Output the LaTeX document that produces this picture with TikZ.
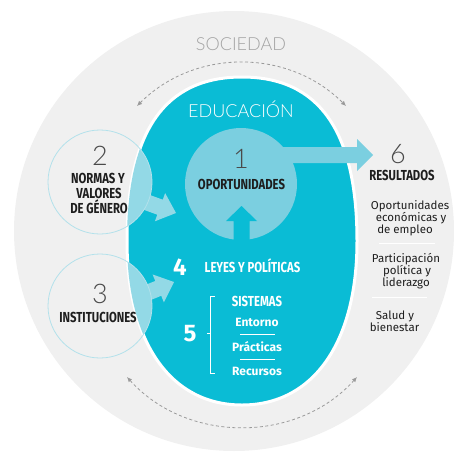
\documentclass[tikz,border=0pt]{standalone}
\usepackage{fontspec}
\setmainfont{Fira Sans}
\newfontfamily\condf{Fira Sans}[FakeStretch=0.78]
\newfontfamily\thinf{Lato Light}
\usetikzlibrary{arrows.meta}
\definecolor{bggrey}{HTML}{F0F0F0}
\definecolor{tealc}{HTML}{0ABCD5}
\definecolor{lightc}{HTML}{7BCFE0}
\definecolor{overl}{HTML}{93D9E6}
\definecolor{ringc}{HTML}{B3E1EB}
\definecolor{dashc}{HTML}{9A9A9A}
\definecolor{txtc}{HTML}{1E1E1E}
\definecolor{numc}{HTML}{4A4A4A}
\definecolor{labc}{HTML}{A3A3A3}
\def\eggpath{(242,77) .. controls (319,77) and (357,131) .. (357,241) .. controls (357,343) and (313,405) .. (242,405) .. controls (171,405) and (127,343) .. (127,241) .. controls (127,131) and (165,77) .. cycle}
\begin{document}
\begin{tikzpicture}[x=1pt,y=-1pt,
  capsb/.style={font=\condf\bfseries\fontsize{14.5}{15}\selectfont, text=txtc, inner sep=0pt, anchor=base},
  thinnum/.style={font=\thinf\fontsize{27}{27}\selectfont, text=numc, inner sep=0pt, anchor=base},
  itemtxt/.style={font=\fontsize{11.5}{12}\selectfont, text=txtc, inner sep=0pt, anchor=base},
  wsub/.style={font=\bfseries\fontsize{12}{12}\selectfont, text=white, inner sep=0pt, anchor=base},
  bignum/.style={font=\bfseries\fontsize{24}{24}\selectfont, text=white, inner sep=0pt, anchor=base},
  biglab/.style={font=\thinf\fontsize{18}{18}\selectfont, inner sep=0pt, anchor=base},
  dasharc/.style={draw=dashc, line width=0.8pt, dash pattern=on 3pt off 2.5pt, {Latex[length=5pt,width=4.5pt]}-{Latex[length=5pt,width=4.5pt]}},
  whiteline/.style={draw=white, line width=1pt},
  ring/.style={draw=ringc, line width=0.8pt}
]
\useasboundingbox (0,0) rectangle (454,452);
% society circle
\fill[bggrey] (234,231) circle[radius=220];
\node[biglab, text=labc] (soc) at (241,50) {SOCIEDAD};
% dashed arcs
\coordinate (ta) at (137,106);
\coordinate (tb) at (346,106);
\coordinate (ba) at (127,377);
\coordinate (bb) at (357,377);
\draw[dasharc] (ta) to[bend left=45] (tb);
\draw[dasharc] (ba) to[bend right=48] (bb);
% education egg
\fill[tealc] \eggpath;
\draw[white, line width=3pt] \eggpath;
\node[biglab, text=white] (edu) at (241,117) {EDUCACIÓN};
% circle 1
\fill[lightc] (241,184) circle[radius=56];
% up arrow (cut out)
\fill[tealc] (241.5,206) -- (257,221) -- (249.5,221) -- (249.5,246) -- (233.5,246) -- (233.5,221) -- (226,221) -- cycle;
% arrow to results
\fill[lightc] (373,155) -- (357,139) -- (357,147) -- (270,147) -- (270,163) -- (357,163) -- (357,171) -- cycle;
% overlaps of circles 2, 3 with egg
\begin{scope}
  \clip \eggpath;
  \fill[overl] (100,182) circle[radius=52];
  \fill[overl] (100,306) circle[radius=52];
\end{scope}
% arrows from 2 and 3
\begin{scope}[shift={(176,213)}, rotate=-20]
  \fill[overl] (0,0) -- (-17,-15) -- (-17,-8) -- (-32,-8) -- (-32,8) -- (-17,8) -- (-17,15) -- cycle;
\end{scope}
\begin{scope}[shift={(174,282)}, rotate=22]
  \fill[overl] (0,0) -- (-17,-15) -- (-17,-8) -- (-32,-8) -- (-32,8) -- (-17,8) -- (-17,15) -- cycle;
\end{scope}
\draw[ring] (100,182) circle[radius=52];
\draw[ring] (100,306) circle[radius=52];
% texts circle 1
\node[thinnum, text=numc] (n1) at (241,168) {1};
\node[capsb] (opo) at (241.5,189) {OPORTUNIDADES};
% circle 2
\node[thinnum] (n2) at (100,165) {2};
\node[capsb] (nor1) at (98,183) {NORMAS Y};
\node[capsb] (nor2) at (99,198) {VALORES};
\node[capsb] (nor3) at (99,213) {DE GÉNERO};
% circle 3
\node[thinnum] (n3) at (100,303) {3};
\node[capsb] (ins) at (98,322) {INSTITUCIONES};
% 4 and 5
\node[bignum] (n4) at (180,275) {4};
\node[capsb, text=white] (ley) at (252.5,272) {LEYES Y POLÍTICAS};
\node[bignum] (n5) at (190,341) {5};
\node[capsb, text=white] (sis) at (257,306) {SISTEMAS};
\node[wsub] (ent) at (257,326) {Entorno};
\node[wsub] (pra) at (257,351) {Prácticas};
\node[wsub] (rec) at (257,375) {Recursos};
\coordinate (s1a) at (240,334); \coordinate (s1b) at (275,334);
\coordinate (s2a) at (240,359); \coordinate (s2b) at (275,359);
\draw[whiteline] (s1a) -- (s1b);
\draw[whiteline] (s2a) -- (s2b);
\coordinate (bt) at (215,296); \coordinate (bb1) at (215,373);
\coordinate (bm) at (207,333);
\draw[whiteline] (bt) -- (210,296) -- (210,373) -- (bb1);
\draw[whiteline] (bm) -- (210,333);
% results
\node[thinnum] (n6) at (398,163) {6};
\node[capsb] (res) at (402,180) {RESULTADOS};
\node[itemtxt] (r1) at (410,209) {Oportunidades};
\node[itemtxt] (r2) at (411,221) {económicas y};
\node[itemtxt] (r3) at (405,233) {de empleo};
\coordinate (l1a) at (379,243); \coordinate (l1b) at (435,243);
\draw[whiteline] (l1a) -- (l1b);
\node[itemtxt] (r4) at (406,262) {Participación};
\node[itemtxt] (r5) at (407,274) {política y};
\node[itemtxt] (r6) at (406,286) {liderazgo};
\coordinate (l2a) at (372,297); \coordinate (l2b) at (427,297);
\draw[whiteline] (l2a) -- (l2b);
\node[itemtxt] (r7) at (395,319) {Salud y};
\node[itemtxt] (r8) at (394.5,331) {bienestar};
\end{tikzpicture}
\end{document}
